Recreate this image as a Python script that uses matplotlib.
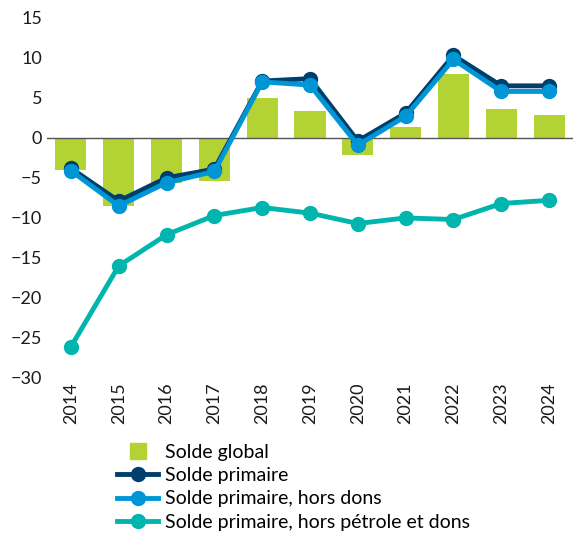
import matplotlib
matplotlib.use('Agg')
import matplotlib.pyplot as plt
from matplotlib.lines import Line2D
import numpy as np

years = ['2014', '2015', '2016', '2017', '2018', '2019', '2020', '2021', '2022', '2023', '2024']
solde_global = [-4.0, -8.5, -5.6, -5.4, 5.0, 3.3, -2.2, 1.3, 8.0, 3.6, 2.8]
solde_primaire = [-3.8, -7.9, -5.0, -3.9, 7.1, 7.4, -0.4, 3.1, 10.3, 6.5, 6.5]
primaire_hors_dons = [-4.1, -8.5, -5.6, -4.2, 7.0, 6.6, -0.9, 2.7, 9.8, 5.8, 5.8]
primaire_hors_petrole = [-26.1, -16.0, -12.1, -9.7, -8.7, -9.4, -10.7, -10.0, -10.2, -8.2, -7.8]

plt.rcParams['font.family'] = ['Lato', 'DejaVu Sans']

fig = plt.figure(figsize=(5.73, 5.4), dpi=100)
ax = fig.add_axes([0.082, 0.3, 0.918, 0.667])

x = np.arange(len(years))
ax.bar(x, solde_global, width=0.65, color='#B3D234', zorder=1)
ax.axhline(0, color='#555555', lw=1, zorder=2)
l1, = ax.plot(x, solde_primaire, color='#003F6B', lw=3.5, marker='o', ms=10, zorder=3)
l2, = ax.plot(x, primaire_hors_dons, color='#0096D6', lw=3.5, marker='o', ms=10, zorder=4)
l3, = ax.plot(x, primaire_hors_petrole, color='#00B5AD', lw=3.5, marker='o', ms=10, zorder=4)

ax.set_xlim(-0.5, 10.5)
ax.set_ylim(-30, 15)
ax.set_yticks(range(-30, 16, 5))
ax.set_xticks(x)
ax.set_xticklabels(years, rotation=90)
ax.tick_params(length=0, labelsize=13, colors='#1a1a1a')
for s in ax.spines.values():
    s.set_visible(False)

bar_handle = Line2D([], [], ls='none', marker='s', ms=11, color='#B3D234')
handles = [bar_handle, l1, l2, l3]
labels = ['Solde global', 'Solde primaire', 'Solde primaire, hors dons',
          'Solde primaire, hors pétrole et dons']
fig.legend(handles, labels, loc='upper left', bbox_to_anchor=(0.205, 0.178),
           frameon=False, fontsize=14, handlelength=2.1, handletextpad=0.35,
           labelspacing=0.32, borderaxespad=0, borderpad=0)

plt.savefig('out.png', dpi=100)
